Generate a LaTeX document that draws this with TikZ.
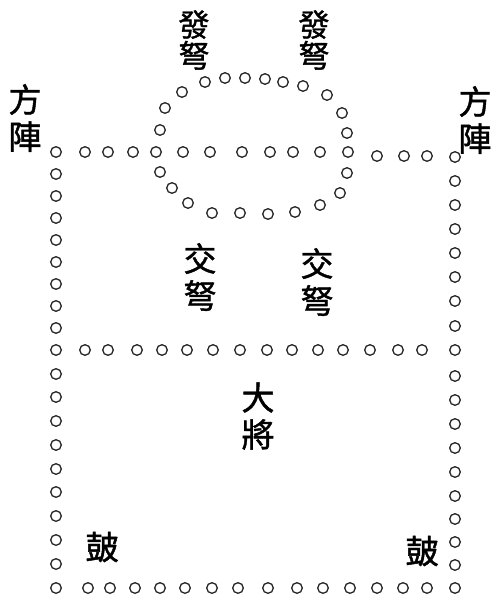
\documentclass[tikz,border=0pt]{standalone}
\usepackage{fontspec}
\newfontfamily\cjk{Noto Sans CJK TC}[FakeBold=1.3]
\begin{document}
\begin{tikzpicture}[x=1pt,y=-1pt,
  ring/.style={draw=black!85, line width=1.3pt},
  lbl/.style={font=\cjk\fontsize{33}{37}\selectfont, align=center, inner sep=0pt},
  lbltight/.style={font=\cjk\fontsize{31}{31}\selectfont, align=center, inner sep=0pt}]
\useasboundingbox (0,0) rectangle (494,606);
% left column
\foreach \y in {152,174,196,218,240,262,284,306,328,350,374,397,421,445,469,492,516,540,564,588}
  \draw[ring] (56,\y) circle[radius=5.3pt];
% right column
\foreach \y in {157,181,205,229,253,277,301,326,350,376,400,424,448,472,496,519,542,565,588}
  \draw[ring] (455,\y) circle[radius=5.3pt];
% top row, left part (crossing ellipse)
\foreach \x in {85,108,133,156,183,210,242,270,293,320,348}
  \draw[ring] (\x,152) circle[radius=5.3pt];
% top row, right part
\foreach \x in {377,404,427}
  \draw[ring] (\x,156) circle[radius=5.3pt];
% middle row
\foreach \x in {85,108,137,162,187,213,240,267,292,318,343,370,398,422}
  \draw[ring] (\x,350) circle[radius=5.3pt];
% bottom row
\foreach \x in {88,110,135,160,185,212,238,268,297,323,350,377,403,427}
  \draw[ring] (\x,588) circle[radius=5.3pt];
% ellipse of rings
\foreach \x/\y in {160/130,165/108,182/92,205/82,225/78,245/78,265/79,283/82,303/86,327/95,342/113,347/133,
                   160/172,172/188,188/203,212/213,240/213,268/214,295/212,320/205,340/193,347/173}
  \draw[ring] (\x,\y) circle[radius=5.3pt];
% labels
\node[lbltight] (fa1) at (194,40) {發\\弩};
\node[lbltight] (fa2) at (314,40) {發\\弩};
\node[lbl] (fz1) at (25,118) {方\\陣};
\node[lbl] (fz2) at (475,120) {方\\陣};
\node[lbl] (jn1) at (200,277) {交\\弩};
\node[lbl] (jn2) at (317,282) {交\\弩};
\node[lbl] (dj) at (258,416) {大\\將};
\node[lbl] (gu1) at (102,547) {皷};
\node[lbl] (gu2) at (422,551) {皷};
\end{tikzpicture}
\end{document}
